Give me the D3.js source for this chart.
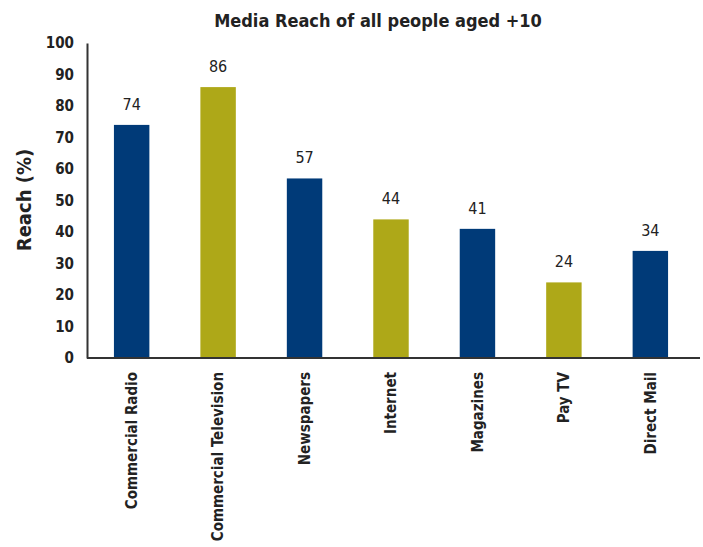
<!DOCTYPE html>
<html>
<head>
<meta charset="utf-8">
<script src="https://cdn.jsdelivr.net/npm/d3@7"></script>
<style>
  body { margin: 0; background: #fff; }
  text { font-family: "Liberation Sans Narrow", "DejaVu Sans Condensed", sans-serif; fill: #222; }
</style>
</head>
<body>
<svg id="chart" width="703" height="547"></svg>
<script>
let categories = ["Commercial Radio", "Commercial Television", "Newspapers", "Internet", "Magazines", "Pay TV", "Direct Mail"]
let reach = [74, 86, 57, 44, 41, 24, 34]
let barColors = ["#003a78", "#aea818", "#003a78", "#aea818", "#003a78", "#aea818", "#003a78"]
let yTicks = [0, 10, 20, 30, 40, 50, 60, 70, 80, 90, 100]

let margin = {top: 43, left: 87, right: 9, bottom: 189},
  width = 703,
  height = 547,
  scales = {
    x: d3.scaleBand()
        .domain(categories)
        .range([margin.left + 1, width - margin.right])
        .paddingInner(0.59)
        .paddingOuter(0.3),
    y: d3.scaleLinear()
        .domain([0, 100])
        .range([height - margin.bottom, margin.top])
  }

let svg = d3.select("#chart")

svg.append("text")
  .attr("x", 378)
  .attr("y", 27)
  .attr("text-anchor", "middle")
  .attr("font-weight", "bold")
  .attr("font-size", 18)
  .text("Media Reach of all people aged +10")

// bars
svg.append("g")
  .selectAll("rect")
  .data(categories).enter()
  .append("rect")
  .attr("x", d => scales.x(d))
  .attr("width", scales.x.bandwidth())
  .attr("y", (d, i) => scales.y(reach[i]))
  .attr("height", (d, i) => scales.y(0) - scales.y(reach[i]))
  .attr("fill", (d, i) => barColors[i])

// value labels
svg.append("g")
  .selectAll("text")
  .data(categories).enter()
  .append("text")
  .attr("x", d => scales.x(d) + scales.x.bandwidth() / 2)
  .attr("y", (d, i) => scales.y(reach[i]) - 15)
  .attr("text-anchor", "middle")
  .attr("font-size", 16)
  .text((d, i) => reach[i])

// y axis
let yAxis = svg.append("g")
  .attr("transform", `translate(${margin.left},0)`)
  .call(d3.axisLeft(scales.y).tickValues(yTicks).tickSize(0).tickPadding(13))
yAxis.select(".domain").attr("stroke", "#333").attr("stroke-width", 2)
yAxis.selectAll("text")
  .attr("font-size", 15)
  .attr("font-weight", "bold")
  .attr("fill", "#222")

// x axis
let xAxis = svg.append("g")
  .attr("transform", `translate(0,${scales.y(0)})`)
  .call(d3.axisBottom(scales.x).tickSize(0).tickPadding(0))
xAxis.select(".domain")
  .attr("d", `M${margin.left},0H${width - 3}`)
  .attr("stroke", "#333").attr("stroke-width", 2)
xAxis.selectAll("text")
  .attr("font-size", 15)
  .attr("font-weight", "bold")
  .attr("fill", "#222")
  .attr("text-anchor", "end")
  .attr("dy", "0.35em")
  .attr("transform", "translate(0,14) rotate(-90)")
  .attr("y", 0)
  .attr("x", 0)

svg.append("text")
  .attr("transform", "translate(31,200) rotate(-90)")
  .attr("text-anchor", "middle")
  .attr("font-weight", "bold")
  .attr("font-size", 20)
  .text("Reach (%)")
</script>
</body>
</html>
